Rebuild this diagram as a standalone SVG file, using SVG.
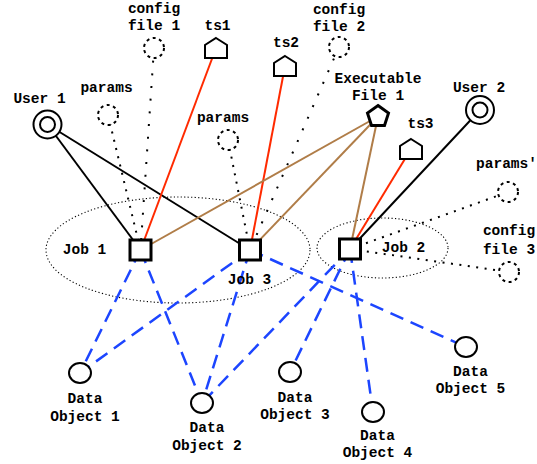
<svg xmlns="http://www.w3.org/2000/svg" width="537" height="464" viewBox="0 0 537 464">
<style>
text{font-family:"Liberation Mono","DejaVu Sans Mono",monospace;font-weight:bold;font-size:14.5px;fill:#000;text-anchor:middle}
.blk{stroke:#000;stroke-width:2;fill:none}
.red{stroke:#ff2a00;stroke-width:2;fill:none}
.brn{stroke:#b07d48;stroke-width:2;fill:none}
.dotc{stroke:#000;stroke-width:2;stroke-dasharray:2 10.7;fill:none}
.dotp{stroke:#000;stroke-width:2;stroke-dasharray:2 6.5;fill:none}
.blu{stroke:#1c45ff;stroke-width:2.5;stroke-dasharray:14 8;fill:none}
.clus{stroke:#000;stroke-width:1.1;stroke-dasharray:1.2 2.3;fill:none}
.job{fill:#fff;stroke:#000;stroke-width:3}
.dfile{fill:#fff;stroke:#000;stroke-width:2;stroke-dasharray:3 3.5}
.shape{fill:#fff;stroke:#000;stroke-width:2}
</style>
<g id="clusters">
<ellipse class="clus" cx="178" cy="250" rx="132" ry="53"/>
<ellipse class="clus" cx="382.5" cy="248" rx="65.5" ry="30"/>
</g>
<g id="connectors">
<line class="blk" x1="47.5" y1="124.5" x2="140.5" y2="250"/>
<line class="blk" x1="47.5" y1="124.5" x2="250" y2="250"/>
<line class="blk" x1="480" y1="110" x2="350" y2="249"/>
<line class="red" x1="216" y1="48" x2="140.5" y2="250"/>
<line class="red" x1="285" y1="66" x2="250" y2="250"/>
<line class="red" x1="411" y1="149" x2="350" y2="249"/>
<line class="brn" x1="378" y1="116.5" x2="140.5" y2="250"/>
<line class="brn" x1="378" y1="116.5" x2="250" y2="250"/>
<line class="brn" x1="378" y1="116.5" x2="350" y2="249"/>
<line class="dotc" x1="154" y1="48" x2="140.5" y2="250"/>
<line class="dotp" x1="108" y1="115" x2="140.5" y2="250"/>
<line class="dotp" x1="228" y1="140" x2="250" y2="250"/>
<line class="dotc" x1="339" y1="47" x2="250" y2="250"/>
<line class="dotp" x1="350" y1="249" x2="508" y2="192"/>
<line class="dotp" x1="350" y1="249" x2="509" y2="272"/>
<line class="blu" x1="140.5" y1="250" x2="80" y2="373"/>
<line class="blu" x1="140.5" y1="250" x2="202" y2="403"/>
<line class="blu" x1="250" y1="250" x2="80" y2="373"/>
<line class="blu" x1="250" y1="250" x2="202" y2="403"/>
<line class="blu" x1="250" y1="250" x2="466" y2="347"/>
<line class="blu" x1="350" y1="249" x2="202" y2="403"/>
<line class="blu" x1="350" y1="249" x2="290" y2="372"/>
<line class="blu" x1="350" y1="249" x2="373" y2="412"/>
</g>
<g id="job1"><rect class="job" x="130" y="240" width="21" height="20"/><text x="84.5" y="254">Job 1</text></g>
<g id="job3"><rect class="job" x="239.5" y="240" width="21" height="20"/><text x="249.5" y="284">Job 3</text></g>
<g id="job2"><rect class="job" x="339.5" y="239" width="21" height="20"/><text x="403.5" y="252">Job 2</text></g>
<g id="user1"><circle class="shape" cx="47.5" cy="124.5" r="14"/><circle class="shape" cx="47.5" cy="124.5" r="7.5"/><text x="39.5" y="103">User 1</text></g>
<g id="user2"><circle class="shape" cx="480" cy="110" r="14"/><circle class="shape" cx="480" cy="110" r="7.5"/><text x="479" y="92">User 2</text></g>
<g id="config1"><circle class="dfile" cx="154" cy="48" r="10"/><text x="154" y="13">config</text><text x="154" y="30">file 1</text></g>
<g id="config2"><circle class="dfile" cx="339" cy="47" r="10"/><text x="339" y="13.5">config</text><text x="339" y="31">file 2</text></g>
<g id="config3"><circle class="dfile" cx="509" cy="272" r="10"/><text x="509" y="235">config</text><text x="509" y="254">file 3</text></g>
<g id="params1"><circle class="dfile" cx="108" cy="115" r="10"/><text x="106.5" y="92">params</text></g>
<g id="params2"><circle class="dfile" cx="228" cy="140" r="10"/><text x="223" y="122">params</text></g>
<g id="params3"><circle class="dfile" cx="508" cy="192" r="10"/><text x="506.5" y="168">params'</text></g>
<g id="ts1"><path class="shape" d="M216 38 L227 45 L227 58 L205 58 L205 45 Z"/><text x="217.5" y="30">ts1</text></g>
<g id="ts2"><path class="shape" d="M285 56 L296 63 L296 76 L274 76 L274 63 Z"/><text x="286" y="47">ts2</text></g>
<g id="ts3"><path class="shape" d="M411 139 L422 146 L422 159 L400 159 L400 146 Z"/><text x="420.5" y="128">ts3</text></g>
<g id="exec1"><path fill="#fff" stroke="#000" stroke-width="3" stroke-linejoin="miter" d="M378 105.5 L388.5 113.1 L384.5 125.4 L371.5 125.4 L367.5 113.1 Z"/><text x="378" y="83">Executable</text><text x="378" y="100">File 1</text></g>
<g id="do1"><ellipse class="shape" cx="80" cy="373" rx="11" ry="10"/><text x="85" y="403">Data</text><text x="85" y="420.5">Object 1</text></g>
<g id="do2"><ellipse class="shape" cx="202" cy="403" rx="11" ry="10"/><text x="207" y="432">Data</text><text x="207" y="450">Object 2</text></g>
<g id="do3"><ellipse class="shape" cx="290" cy="372" rx="11" ry="10"/><text x="295" y="401.5">Data</text><text x="295" y="419">Object 3</text></g>
<g id="do4"><ellipse class="shape" cx="373" cy="412" rx="11" ry="10"/><text x="377.5" y="440">Data</text><text x="377.5" y="457">Object 4</text></g>
<g id="do5"><ellipse class="shape" cx="466" cy="347" rx="11" ry="10"/><text x="470.5" y="376">Data</text><text x="470.5" y="393">Object 5</text></g>
</svg>
